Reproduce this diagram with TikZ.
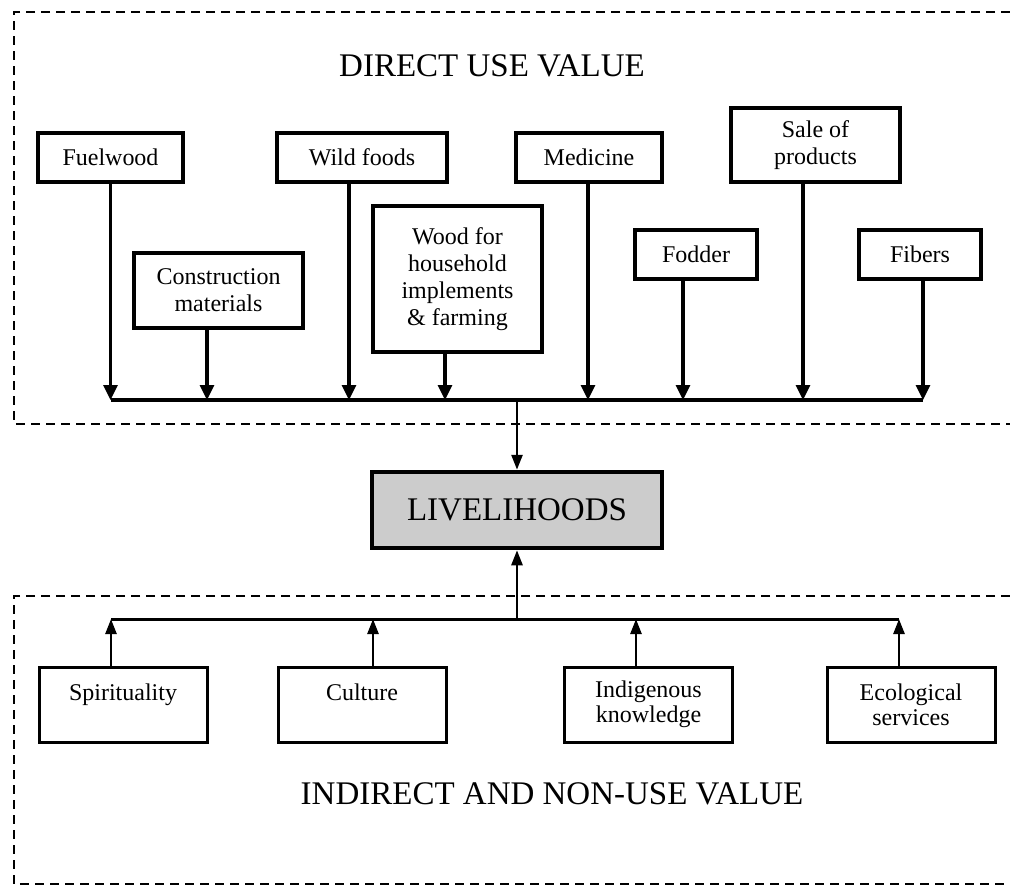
\documentclass[tikz,border=0pt]{standalone}
\usepackage{fontspec}
\setmainfont{Liberation Serif}
\usetikzlibrary{arrows.meta}
\begin{document}
\begin{tikzpicture}[x=1pt,y=-1pt,
  box/.style={draw, line width=3.4pt, inner sep=0pt, align=center, font=\fontsize{24}{27}\selectfont},
  lbox/.style={draw, line width=3pt, inner sep=0pt, align=center, font=\fontsize{24}{25}\selectfont, minimum width=168pt, minimum height=75pt},
  arr/.style={line width=3.2pt, -{Triangle[width=14pt,length=15pt]}},
  larr/.style={line width=2.6pt, -{Triangle[width=11pt,length=15pt]}},
  bus/.style={line width=3.2pt},
  dashbox/.style={line width=2pt, dash pattern=on 9pt off 6pt},
  title/.style={font=\fontsize{33}{36}\selectfont}
]
\useasboundingbox (0,0) rectangle (1010,886);

% dashed frames (open on the right)
\draw[dashbox] (1010,12) -- (14,12) -- (14,424) -- (1010,424);
\draw[dashbox] (1010,596) -- (14,596) -- (14,884) -- (1010,884);

\node[title] (dtitle) at (492,66) {DIRECT USE VALUE};
\node[title] (ititle) at (552,794) {INDIRECT AND NON-USE VALUE};

% top boxes
\node[box, minimum width=145pt, minimum height=49pt] (fuel) at (110.5,157.5) {Fuelwood};
\node[box, minimum width=170pt, minimum height=49pt] (wild) at (362,157.5) {Wild foods};
\node[box, minimum width=169pt, minimum height=75pt] (cons) at (218.5,290.5) {Construction\\materials};
\node[box, minimum width=169pt, minimum height=146pt] (wood) at (457.5,279) {Wood for\\household\\implements\\\&{} farming};
\node[box, minimum width=146pt, minimum height=49pt] (med) at (589,157.5) {Medicine};
\node[box, minimum width=169pt, minimum height=74pt] (sale) at (815.5,145) {Sale of\\products};
\node[box, minimum width=122pt, minimum height=49pt] (fod) at (696,254.5) {Fodder};
\node[box, minimum width=122pt, minimum height=49pt] (fib) at (920,254.5) {Fibers};

% livelihoods
\node[draw, line width=4.5pt, fill=black!20, minimum width=290pt, minimum height=76pt,
      font=\fontsize{33}{36}\selectfont] (live) at (517,510) {LIVELIHOODS};

% bottom boxes
\node[lbox] (spir) at (123,704.5) {Spirituality\\\phantom{X}};
\node[lbox] (cult) at (362,704.5) {Culture\\\phantom{X}};
\node[lbox] (indi) at (648.5,704.5) {Indigenous\\knowledge};
\node[lbox] (eco) at (911,704.5) {Ecological\\services};

% top bus
\coordinate (tbL) at (111,400);
\coordinate (tbR) at (923,400);
\coordinate (tbM) at (517,400);
\draw[bus] (tbL) -- (tbR);
\draw[arr] (fuel.south) -- (fuel.south |- tbL);
\draw[arr] ([xshift=-11.5pt]cons.south) -- ([xshift=-11.5pt]cons.south |- tbL);
\draw[arr] ([xshift=-13pt]wild.south) -- ([xshift=-13pt]wild.south |- tbL);
\draw[arr] ([xshift=-12.5pt]wood.south) -- ([xshift=-12.5pt]wood.south |- tbL);
\draw[arr] ([xshift=-1pt]med.south) -- ([xshift=-1pt]med.south |- tbL);
\draw[arr] ([xshift=-13pt]fod.south) -- ([xshift=-13pt]fod.south |- tbL);
\draw[arr] ([xshift=-12.5pt]sale.south) -- ([xshift=-12.5pt]sale.south |- tbL);
\draw[arr] ([xshift=3pt]fib.south) -- ([xshift=3pt]fib.south |- tbL);
\draw[larr] (tbM) -- (live.north);

% bottom bus
\coordinate (bbL) at (111,619);
\coordinate (bbR) at (899,619);
\coordinate (bbM) at (517,619);
\draw[line width=3pt] (bbL) -- (bbR);
\draw[larr] (bbM) -- (live.south);
\draw[larr] ([xshift=-12pt]spir.north) -- ([xshift=-12pt]spir.north |- bbL);
\draw[larr] ([xshift=11pt]cult.north) -- ([xshift=11pt]cult.north |- bbL);
\draw[larr] ([xshift=-12.5pt]indi.north) -- ([xshift=-12.5pt]indi.north |- bbL);
\draw[larr] ([xshift=-12pt]eco.north) -- ([xshift=-12pt]eco.north |- bbL);
\end{tikzpicture}
\end{document}
